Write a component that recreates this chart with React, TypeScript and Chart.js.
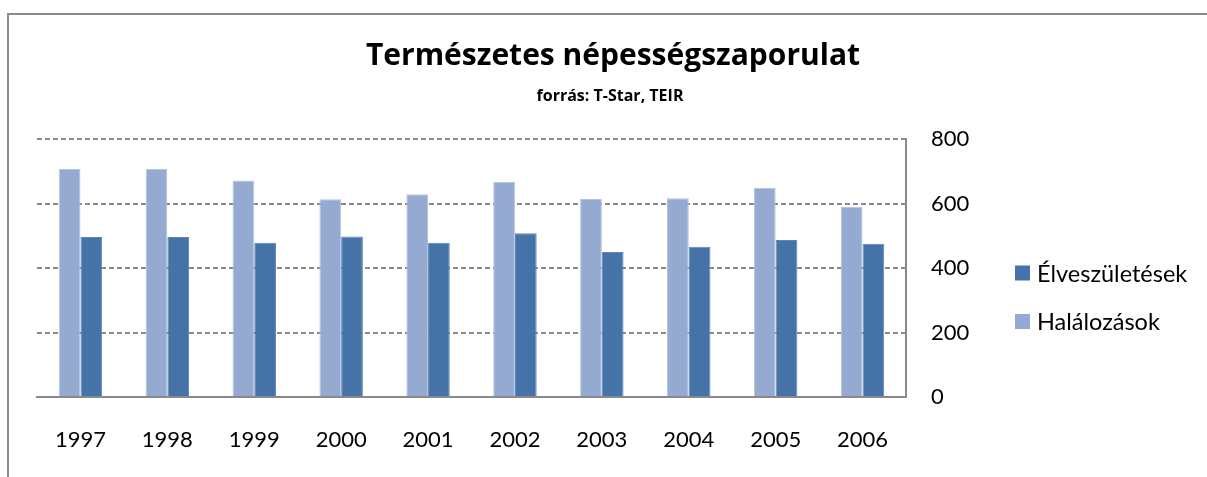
import React, { useEffect, useRef } from "react";
import { Chart, registerables } from "chart.js";

Chart.register(...registerables);

const categories = ["1997", "1998", "1999", "2000", "2001", "2002", "2003", "2004", "2005", "2006"];
const halalozasok = [707, 707, 671, 613, 629, 667, 614, 616, 648, 590];
const elveszuletesek = [496, 496, 478, 498, 478, 508, 450, 466, 487, 475];
const yTicks = [0, 200, 400, 600, 800];
const titleText = "Természetes népességszaporulat";
const subtitleText = "forrás: T-Star, TEIR";

const FONT = "Lato, 'Open Sans', sans-serif";
const TITLE_FONT = "'Open Sans', Lato, sans-serif";
const LIGHT = "#95AAD1";
const DARK = "#4573A7";
const GRID = "#8a8a8a";

const titlePlugin = {
  id: "fixedTitles",
  afterDraw(chart: any) {
    const ctx = chart.ctx;
    ctx.save();
    ctx.fillStyle = "#000";
    ctx.textAlign = "center";
    ctx.textBaseline = "alphabetic";
    ctx.font = `bold 30px ${TITLE_FONT}`;
    ctx.fillText(titleText, 613, 65);
    ctx.font = `bold 16px ${TITLE_FONT}`;
    ctx.fillText(subtitleText, 610, 101);
    ctx.restore();
  },
};

const legendPlugin = {
  id: "sideLegend",
  afterDraw(chart: any) {
    const ctx = chart.ctx;
    const ds = chart.data.datasets.slice().reverse();
    const x = 1015;
    const startY = 273;
    const gap = 48.5;
    ctx.save();
    ctx.font = `23.5px ${FONT}`;
    ctx.textBaseline = "middle";
    ctx.textAlign = "left";
    ds.forEach((d: any, i: number) => {
      const cy = startY + i * gap;
      ctx.fillStyle = d.backgroundColor;
      ctx.fillRect(x, cy - 7.5, 15, 15);
      ctx.fillStyle = "#000";
      ctx.fillText(d.label, x + 22, cy + 1);
    });
    ctx.restore();
  },
};

export default function App() {
  const ref = useRef<HTMLCanvasElement>(null);
  useEffect(() => {
    if (!ref.current) return;
    Chart.defaults.font.family = FONT;
    const chart = new Chart(ref.current, {
      type: "bar",
      data: {
        labels: categories,
        datasets: [
          {
            label: "Halálozások",
            data: halalozasok,
            backgroundColor: LIGHT,
            borderColor: "#b3c3e0",
            borderWidth: 1,
            categoryPercentage: 0.5,
            barPercentage: 1,
          },
          {
            label: "Élveszületések",
            data: elveszuletesek,
            backgroundColor: DARK,
            borderColor: "#5d86b6",
            borderWidth: 1,
            categoryPercentage: 0.5,
            barPercentage: 1,
          },
        ],
      },
      options: {
        animation: false,
        responsive: false,
        devicePixelRatio: 1,
        layout: { padding: { left: 37, right: 181, top: 139, bottom: 20 } },
        plugins: {
          legend: { display: false },
          tooltip: { enabled: false },
          title: { display: false },
        },
        scales: {
          x: {
            grid: { display: false, drawTicks: false },
            border: { display: true, color: GRID, width: 2 },
            ticks: { color: "#000", font: { size: 22 }, padding: 30 },
            afterFit: (s: any) => {
              s.height = 60;
            },
          },
          y: {
            position: "right",
            min: 0,
            max: 800,
            afterBuildTicks: (s: any) => {
              s.ticks = yTicks.map((v) => ({ value: v }));
            },
            grid: {
              drawTicks: false,
              color: (c: any) => (c.tick && c.tick.value === 0 ? "rgba(0,0,0,0)" : GRID),
              lineWidth: 2,
            },
            border: { display: true, color: GRID, width: 2, dash: [5, 3] },
            ticks: { color: "#000", font: { size: 22 }, padding: 25 },
            afterFit: (s: any) => {
              s.width = 120;
            },
          },
        },
      } as any,
      plugins: [titlePlugin, legendPlugin],
    });
    return () => chart.destroy();
  }, []);

  return (
    <div style={{ position: "fixed", left: 0, top: 0, width: 1207, height: 477, overflow: "hidden", background: "#fff" }}>
      <div
        style={{
          position: "absolute",
          left: 7,
          top: 13,
          width: 1300,
          height: 600,
          borderTop: "2px solid #8c8c8c",
          borderLeft: "2px solid #8c8c8c",
        }}
      />
      <canvas ref={ref} width={1207} height={477} style={{ position: "absolute", left: 0, top: 0 }} />
    </div>
  );
}
